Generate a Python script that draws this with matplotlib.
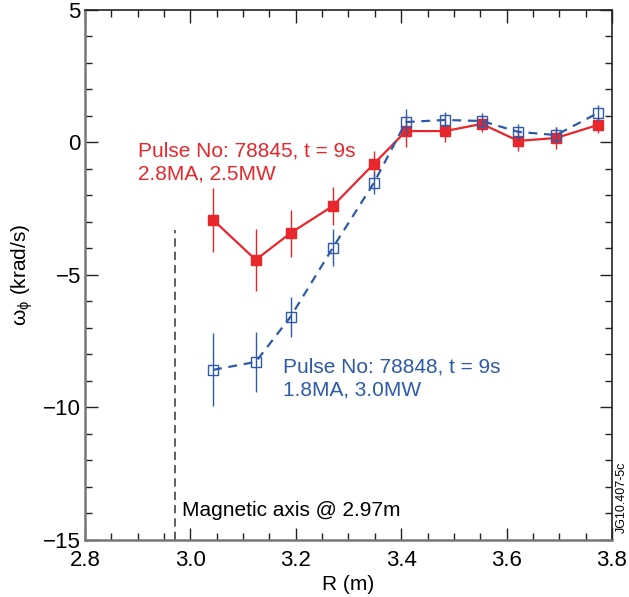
import matplotlib
matplotlib.use("Agg")
import matplotlib.pyplot as plt
from matplotlib.ticker import MultipleLocator

plt.rcParams['font.family'] = ['Liberation Sans', 'DejaVu Sans']

# major radius (m) of the CX measurement channels
r_red = [3.043, 3.124, 3.190, 3.270, 3.348, 3.409, 3.483, 3.553, 3.622, 3.694, 3.773]
r_blue = [3.043, 3.124, 3.190, 3.270, 3.348, 3.409, 3.483, 3.553, 3.622, 3.694, 3.773]

# toroidal rotation (krad/s) and errors, pulse 78845
w_red = [-2.92, -4.43, -3.42, -2.40, -0.81, 0.43, 0.43, 0.70, 0.06, 0.17, 0.66]
e_red = [1.22, 1.17, 0.89, 0.72, 0.50, 0.60, 0.40, 0.30, 0.40, 0.40, 0.30]

# pulse 78848
w_blue = [-8.58, -8.28, -6.58, -3.98, -1.53, 0.77, 0.85, 0.81, 0.40, 0.28, 1.11]
e_blue = [1.38, 1.13, 0.75, 0.70, 0.42, 0.50, 0.30, 0.30, 0.30, 0.30, 0.30]

mag_axis = 2.97

red = '#e8262b'
blue = '#2e5aa8'

fig = plt.figure(figsize=(6.29, 5.97), dpi=100)
ax = fig.add_axes([0.1351, 0.0955, 0.8379, 0.8878])

ax.errorbar(r_red, w_red, yerr=e_red, color=red, lw=1.6, elinewidth=1.0,
            marker='s', ms=7.5, mfc=red, mec=red, capsize=0, zorder=3)
ax.errorbar(r_blue, w_blue, yerr=e_blue, color=blue, lw=1.6, ls=(0, (4, 3)),
            elinewidth=1.0, marker='s', ms=6.5, mfc='none', mec=blue,
            mew=1.0, capsize=0, zorder=4)

ax.plot([mag_axis, mag_axis], [-15, -3.3], color='#444444', lw=1.2,
        ls=(0, (5, 3)))

ax.text(2.900, 0.05, 'Pulse No: 78845, t = 9s\n2.8MA, 2.5MW', color=red,
        fontsize=15, va='top', ha='left', linespacing=1.28)
ax.text(3.176, -8.1, 'Pulse No: 78848, t = 9s\n1.8MA, 3.0MW', color=blue,
        fontsize=15, va='top', ha='left', linespacing=1.28)
ax.text(2.985, -13.9, 'Magnetic axis @ 2.97m', color='black', fontsize=15,
        va='center', ha='left')

fig.text(0.989, 0.167, 'JG10.407-5c', rotation=90, fontsize=9,
         ha='center', va='center')

ax.set_xlim(2.8, 3.8)
ax.set_ylim(-15, 5)
ax.xaxis.set_major_locator(MultipleLocator(0.2))
ax.xaxis.set_minor_locator(MultipleLocator(0.05))
ax.yaxis.set_major_locator(MultipleLocator(5))
ax.yaxis.set_minor_locator(MultipleLocator(1))
ax.set_xticks([2.8, 3.0, 3.2, 3.4, 3.6, 3.8])
ax.set_xticklabels(['2.8', '3.0', '3.2', '3.4', '3.6', '3.8'])
ax.tick_params(which='both', direction='in', top=True, right=True,
               labelsize=16, color='#222222')
ax.tick_params(which='major', length=9, width=1.0)
ax.tick_params(which='minor', length=5, width=1.0)
ax.tick_params(axis='x', pad=7)
ax.tick_params(axis='y', pad=3)
for side in ['left', 'bottom']:
    ax.spines[side].set_color('#777777')
    ax.spines[side].set_linewidth(1.8)
for side in ['right', 'top']:
    ax.spines[side].set_color('#222222')
    ax.spines[side].set_linewidth(1.2)

ax.set_xlabel('R (m)', fontsize=15, labelpad=3)
ax.set_ylabel(r'$\mathregular{\omega_\phi}$ (krad/s)', fontsize=15, labelpad=6)

fig.savefig('out.png', dpi=100)
